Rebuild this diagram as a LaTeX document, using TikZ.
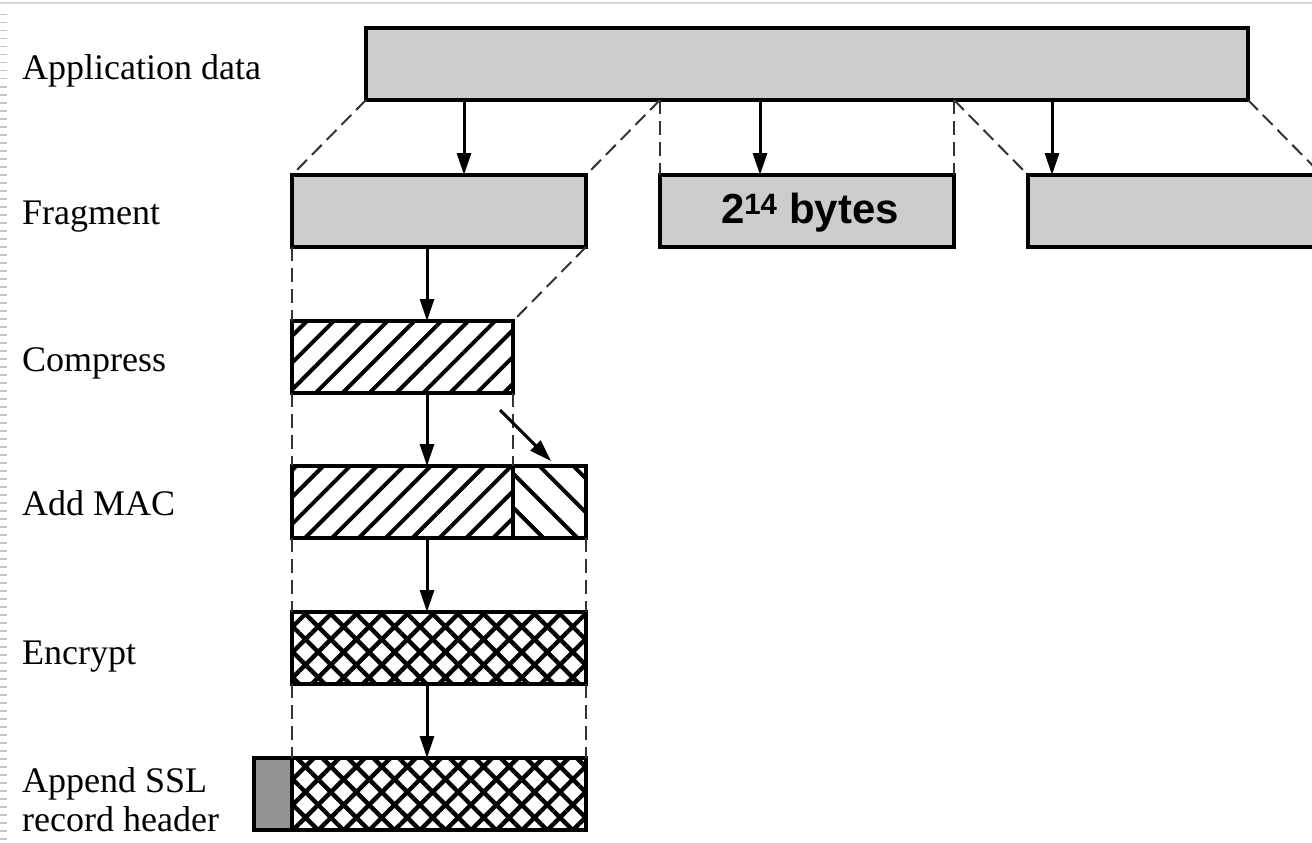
\documentclass[tikz,border=0pt]{standalone}
\usepackage{fontspec}
\setmainfont{Liberation Serif}
\newfontfamily\sansbold{Liberation Sans}[BoldFont={Liberation Sans Bold}]
\usetikzlibrary{arrows.meta,patterns.meta,calc}
\begin{document}
\begin{tikzpicture}[x=1pt,y=-1pt,
  box/.style={draw, line width=3.6pt, inner sep=0pt, outer sep=0pt, anchor=north west, minimum height=72pt},
  grayfill/.style={fill=black!20},
  hdrfill/.style={fill=black!42},
  nehatch/.style={pattern={Lines[angle=45,distance=19pt,line width=4pt]}},
  nwhatch/.style={pattern={Lines[angle=-45,distance=24pt,line width=4pt]}},
  xhatch/.style={pattern={Hatch[angle=45,distance=18pt,line width=4.4pt]}},
  arr/.style={line width=3pt, -{Triangle[length=22pt,width=14pt]}},
  guide/.style={line width=2pt, dash pattern=on 14pt off 7pt, black!80},
  lbl/.style={anchor=base west, inner sep=0pt, font=\fontsize{36}{40}\selectfont}
]
\useasboundingbox (0,0) rectangle (1312,843);
% screenshot frame artefacts
\draw[black!15, line width=1.5pt] (0,3) -- (1312,3);
\draw[black!22, line width=7pt, dash pattern=on 1.5pt off 6.5pt] (3.5,14) -- (3.5,843);

% boxes
\node[box, grayfill, minimum width=882pt] (app) at (366,28) {};
\node[box, grayfill, minimum width=294pt] (frag1) at (292,175) {};
\node[box, grayfill, minimum width=294pt] (frag2) at (660,175) {};
\node[box, grayfill, minimum width=294pt] (frag3) at (1028,175) {};
\node[box, nehatch, minimum width=221pt] (comp) at (292,321) {};
\node[box, nehatch, minimum width=221pt] (mac1) at (292,466) {};
\node[box, nwhatch, minimum width=73pt] (mac2) at (513,466) {};
\node[box, xhatch, minimum width=294pt] (enc) at (292,612) {};
\node[box, hdrfill, minimum width=38pt] (hdr) at (254,758) {};
\node[box, xhatch, minimum width=294pt] (rec) at (292,758) {};

\node[font=\sansbold\bfseries\fontsize{42}{44}\selectfont, inner sep=0pt] (bytes) at ($(frag2.center)+(3,2)$) {2\textsuperscript{14} bytes};

% labels
\node[lbl] (l1) at (22,79) {Application data};
\node[lbl] (l2) at (22,224) {Fragment};
\node[lbl] (l3) at (22,371) {Compress};
\node[lbl] (l4) at (22,515) {Add MAC};
\node[lbl] (l5) at (22,664) {Encrypt};
\node[lbl] (l6) at (22,792) {Append SSL};
\node[lbl] (l7) at (22,831) {record header};

% split points on application data
\coordinate (s1) at ($(app.south west)+(294,0)$);
\coordinate (s2) at ($(app.south west)+(588,0)$);

% dashed guides
\draw[guide] (app.south west) -- (frag1.north west);
\draw[guide] (s1) -- (frag1.north east);
\draw[guide] (s1) -- (frag2.north west);
\draw[guide] (s2) -- (frag2.north east);
\draw[guide] (s2) -- (frag3.north west);
\draw[guide] (app.south east) -- (frag3.north east);
\draw[guide] (frag1.south west) -- (comp.north west);
\draw[guide] (frag1.south east) -- (comp.north east);
\draw[guide] (comp.south west) -- (mac1.north west);
\draw[guide] (comp.south east) -- (mac1.north east);
\draw[guide] (mac1.south west) -- (enc.north west);
\draw[guide] (mac2.south east) -- (enc.north east);
\draw[guide] (enc.south west) -- (rec.north west);
\draw[guide] (enc.south east) -- (rec.north east);

% arrows
\draw[arr] (464,0 |- app.south) -- (464,0 |- frag1.north);
\draw[arr] (760,0 |- app.south) -- (760,0 |- frag2.north);
\draw[arr] (1052,0 |- app.south) -- (1052,0 |- frag3.north);
\draw[arr] (427,0 |- frag1.south) -- (427,0 |- comp.north);
\draw[arr] (427,0 |- comp.south) -- (427,0 |- mac1.north);
\draw[arr] (427,0 |- mac1.south) -- (427,0 |- enc.north);
\draw[arr] (427,0 |- enc.south) -- (427,0 |- rec.north);
\coordinate (d1) at (500,410);
\coordinate (d2) at (551,461);
\draw[arr] (d1) -- (d2);
\end{tikzpicture}
\end{document}
